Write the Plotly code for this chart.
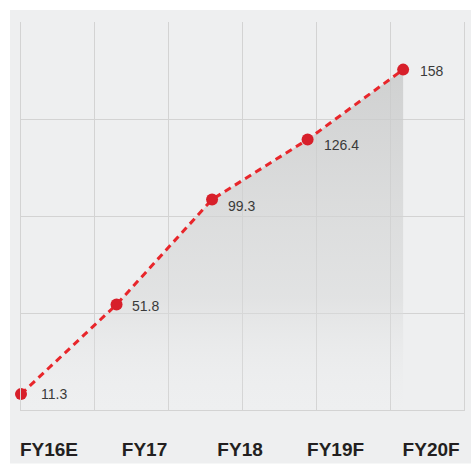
import plotly.graph_objects as go

categories = ["FY16E", "FY17", "FY18", "FY19F", "FY20F"]
values = [11.3, 51.8, 99.3, 126.4, 158]
labels = ["11.3", "51.8", "99.3", "126.4", "158"]

W, H = 472, 467
ML, MR, MT, MB = 21, 7, 22, 54
PW, PH = W - ML - MR, H - MT - MB
BG = "#eeeff0"
GRID = "#d3d3d3"

idx = list(range(len(categories)))
label_dx = [18, 13, 14, 14, 15]
label_dy = [0, -1, -7, -5, -1]

fig = go.Figure()

# dummy trace so the overlay grid axis is drawn
fig.add_trace(go.Scatter(x=[0], y=[None], xaxis="x2", showlegend=False,
                         hoverinfo="skip", mode="markers"))

fig.add_trace(go.Scatter(
    x=idx, y=values,
    mode="lines+markers",
    line=dict(color="#e8262b", width=3, dash="7px,5px"),
    marker=dict(color="#d71f2a", size=12),
    fill="tozeroy",
    fillgradient=dict(type="vertical",
                      colorscale=[[0, "rgba(238,239,240,0.0)"],
                                  [0.35, "rgba(215,216,216,0.55)"],
                                  [1, "rgba(200,201,201,0.8)"]]),
    cliponaxis=False,
    showlegend=False,
))

annotations = []
for i, v, t, dx, dy in zip(idx, values, labels, label_dx, label_dy):
    annotations.append(dict(
        x=i, y=v, xref="x", yref="y", text=t, showarrow=False,
        xanchor="left", yanchor="middle", xshift=dx, yshift=dy,
        font=dict(family="Liberation Sans, Arial, sans-serif", size=14, color="#3a3a3a"),
    ))

fig.update_layout(
    width=W, height=H,
    margin=dict(l=ML, r=MR, t=MT, b=MB, pad=0),
    paper_bgcolor="white",
    plot_bgcolor=BG,
    annotations=annotations,
    xaxis=dict(
        range=[0, 4.637], tickvals=idx, ticktext=categories,
        showgrid=False, zeroline=False,
        ticks="outside", ticklen=22, tickcolor="rgba(0,0,0,0)",
        ticklabelshift=28,
        tickfont=dict(family="Liberation Sans, Arial, sans-serif", size=19, color="#231f20", weight="bold"),
        showline=True, mirror=False, linecolor=GRID, linewidth=1,
    ),
    xaxis2=dict(
        overlaying="x", range=[0, 6], dtick=1, tick0=0,
        showgrid=True, gridcolor=GRID, gridwidth=1,
        showticklabels=False, zeroline=False, side="bottom",
    ),
    yaxis=dict(
        range=[4.122, 179.53], tick0=4.122, dtick=43.85,
        showgrid=True, gridcolor=GRID, gridwidth=1,
        showticklabels=False, zeroline=False,
        showline=True, mirror=True, linecolor=GRID, linewidth=1,
    ),
    shapes=[dict(
        type="rect", xref="paper", yref="paper", layer="below",
        x0=-(ML - 10) / PW, x1=(W - ML) / PW,
        y0=-MB / PH, y1=(H - 10 - MB) / PH,
        fillcolor=BG, line=dict(width=0),
    )],
)

fig.write_html("out.html")
